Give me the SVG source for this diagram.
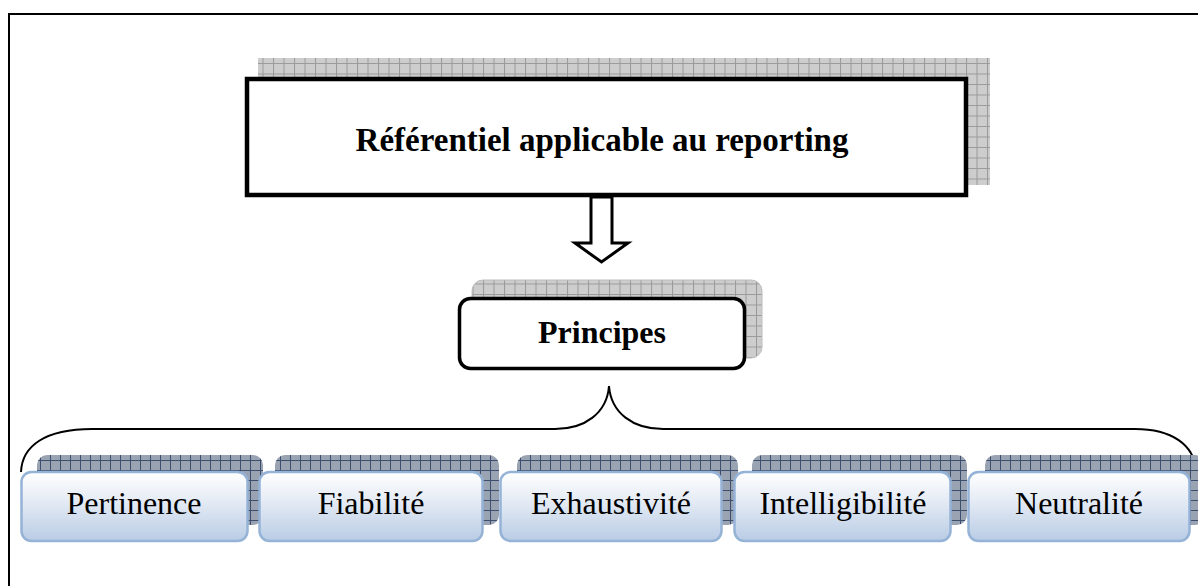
<svg xmlns="http://www.w3.org/2000/svg" width="1198" height="586" viewBox="0 0 1198 586">
<defs>
<pattern id="gridGray" width="10.5" height="10.5" patternUnits="userSpaceOnUse">
<rect width="10.5" height="10.5" fill="#cdcdcd"/>
<path d="M0,0.5H10.5M0.5,0V10.5" stroke="#9a9a9a" stroke-width="1"/>
</pattern>
<pattern id="gridBlue" width="10" height="10" patternUnits="userSpaceOnUse">
<rect width="10" height="10" fill="#9aa3b2"/>
<path d="M0,0.5H10M0.5,0V10" stroke="#3e4e6e" stroke-width="1"/>
</pattern>
<linearGradient id="boxGrad" x1="0" y1="0" x2="0" y2="1">
<stop offset="0" stop-color="#ffffff"/>
<stop offset="0.4" stop-color="#e6ecf5"/>
<stop offset="1" stop-color="#b9cce5"/>
</linearGradient>
<style>
.frame{fill:none;stroke:#000;stroke-width:2}
.title{font-family:"Liberation Serif","Times New Roman",serif;font-weight:bold;font-size:32px;fill:#000;text-anchor:middle}
.item{font-family:"Liberation Serif","Times New Roman",serif;font-size:32px;fill:#000;text-anchor:middle}
.shadowB{fill:url(#gridBlue)}
.box{fill:url(#boxGrad);stroke:#95b3d7;stroke-width:2.5}
.brace{fill:none;stroke:#000;stroke-width:2}
</style>
</defs>
<rect width="1198" height="586" fill="#fff"/>
<path class="frame" d="M9,586V14H1198"/>

<g id="referentiel">
<rect x="258" y="58" width="732" height="127" fill="url(#gridGray)"/>
<rect x="247" y="79" width="719" height="116" fill="#fff" stroke="#000" stroke-width="4.5"/>
<text class="title" x="602" y="151" style="font-size:33px">Référentiel applicable au reporting</text>
</g>

<g id="connectors">
<polygon points="591,197 612,197 612,243 628,243 601.5,262 575,243 591,243" fill="#fff" stroke="#000" stroke-width="3" stroke-linejoin="miter"/>
<path class="brace" d="M21,472 C22,446 45,429 92,429 L555,429 C585,429 607,413 609,386 C611,413 633,429 663,429 L1135,429 C1172,429 1194,445 1196,470"/>
</g>

<g id="principes">
<rect x="472" y="280" width="290" height="78" rx="11" fill="url(#gridGray)" stroke="#bdbdbd" stroke-width="1"/>
<rect x="459.5" y="298.5" width="285" height="70" rx="11" fill="#fff" stroke="#000" stroke-width="3.5"/>
<text class="title" x="602" y="343">Principes</text>
</g>

<g id="pertinence">
<rect class="shadowB" x="37" y="455" width="226" height="70" rx="10"/>
<rect class="box" x="21.5" y="472" width="226" height="69" rx="10"/>
<text class="item" x="134" y="514">Pertinence</text>
</g>
<g id="fiabilite">
<rect class="shadowB" x="275" y="455" width="224" height="70" rx="10"/>
<rect class="box" x="259.5" y="472" width="223" height="69" rx="10"/>
<text class="item" x="371" y="514">Fiabilité</text>
</g>
<g id="exhaustivite">
<rect class="shadowB" x="517" y="455" width="221" height="70" rx="10"/>
<rect class="box" x="500.5" y="472" width="221" height="69" rx="10"/>
<text class="item" x="611" y="514">Exhaustivité</text>
</g>
<g id="intelligibilite">
<rect class="shadowB" x="752" y="455" width="215" height="70" rx="10"/>
<rect class="box" x="734.5" y="472" width="216" height="69" rx="10"/>
<text class="item" x="843" y="514">Intelligibilité</text>
</g>
<g id="neutralite">
<rect class="shadowB" x="985" y="455" width="220" height="70" rx="10"/>
<rect class="box" x="968.5" y="472" width="221" height="69" rx="10"/>
<text class="item" x="1079" y="514">Neutralité</text>
</g>
</svg>
